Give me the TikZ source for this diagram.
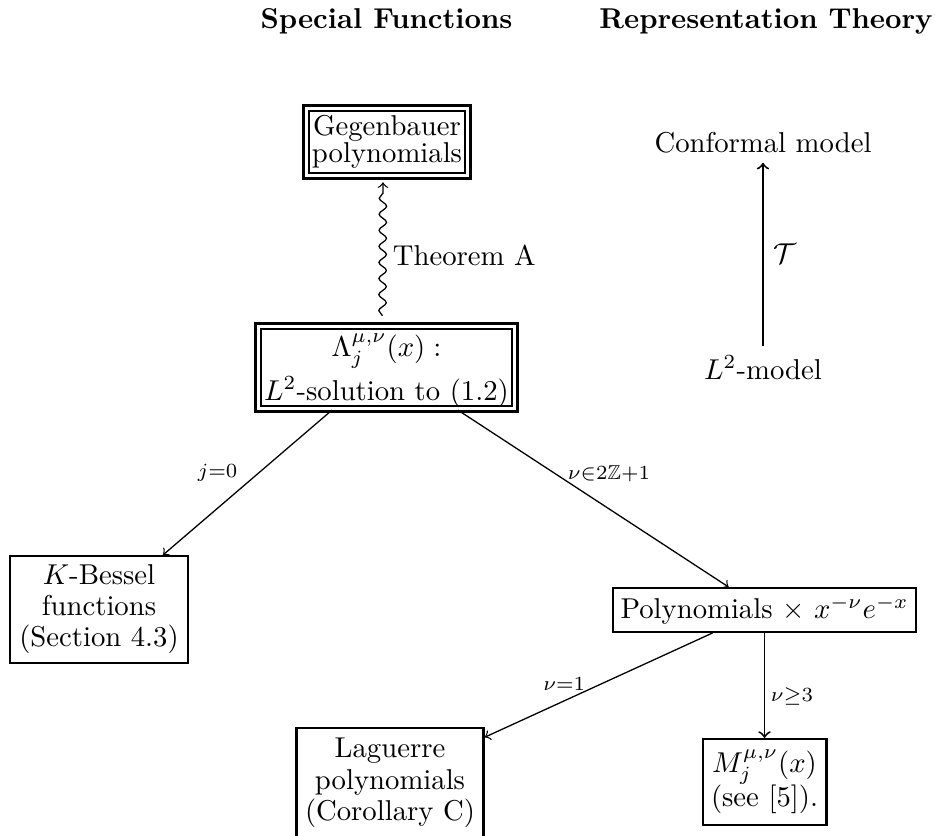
\documentclass[tikz,border=0pt]{standalone}
\usepackage{amssymb}
\usetikzlibrary{decorations.pathmorphing}
\begin{document}
\begin{tikzpicture}[x=0.3484pt,y=-0.3484pt, >=to,
  dbox/.style={draw, double, line width=0.9pt, double distance=1.1pt, inner sep=0pt, align=center},
  sbox/.style={draw, line width=0.8pt, inner sep=0pt, align=center},
  arr/.style={->, line width=0.45pt},
  varr/.style={->, line width=0.65pt},
  lbl/.style={inner sep=0pt},
  head/.style={font=\bfseries, anchor=base, inner sep=0pt}]
\useasboundingbox (0,0) rectangle (935,835);
% headings
\node[head] (h1) at (386.5,28) {Special Functions};
\node[head] (h2) at (766,28) {Representation Theory};
% boxes
\node[dbox, minimum width=56.3pt, minimum height=23.6pt, font=\fontsize{10}{9.4}\selectfont] (gen) at (387,142) {Gegenbauer\\polynomials};
\node[dbox, minimum width=89.4pt, minimum height=28.8pt] (lam) at (386.5,367.5) {\rule{0pt}{10pt}$\Lambda_j^{\mu,\nu}(x):$\\[2pt]$L^2$-solution to (1.2)};
\node[sbox, minimum width=61.9pt, minimum height=37.2pt, font=\fontsize{10}{10.8}\selectfont] (kb) at (99,609.5) {$K$-Bessel\\functions\\(Section 4.3)};
\node[sbox, minimum width=105.8pt, minimum height=15.2pt] (poly) at (764.5,610) {Polynomials $\times$ $x^{-\nu}e^{-x}$};
\node[sbox, minimum width=65.2pt, minimum height=38.5pt, font=\fontsize{10}{11}\selectfont] (lag) at (390,783) {Laguerre\\polynomials\\(Corollary C)};
\node[sbox, minimum width=43.1pt, minimum height=29.9pt, font=\fontsize{10}{12}\selectfont] (mj) at (764.5,782) {$M_j^{\mu,\nu}(x)$\\(see [5]).};
% representation theory side
\node[anchor=base] (conf) at (763,152) {Conformal model};
\node[anchor=base] (l2) at (763,379) {$L^2$-model};
\draw[varr] (l2) -- node[right] {$\mathcal{T}$} (conf);
% connectors
\draw[arr, decorate, decoration={snake, amplitude=1.3pt, segment length=5.6pt, post length=2pt}]
  ([xshift=-1.4pt,yshift=3.2pt]lam.north) -- node[right, pos=0.45] {Theorem A} ([xshift=-1.4pt,yshift=-1.8pt]gen.south);
\draw[arr] ([xshift=-19pt]lam.south) -- node[lbl, pos=0.43, anchor=east, xshift=-7.4pt] {$\scriptstyle j=0$} ([xshift=22.3pt]kb.north);
\draw[arr] ([xshift=24.9pt]lam.south) -- node[lbl, pos=0.358, anchor=west, xshift=4.3pt] {$\scriptstyle \nu\in 2\mathbb{Z}+1$} ([xshift=-12.5pt]poly.north);
\draw[arr] ([xshift=-18.1pt]poly.south) -- node[lbl, pos=0.487, anchor=east, xshift=-5.5pt] {$\scriptstyle \nu=1$} ([yshift=-3.7pt]lag.north east);
\draw[varr] (poly.south) -- node[lbl, pos=0.607, anchor=west, xshift=1.9pt] {$\scriptstyle \nu\geq 3$} (mj.north);
\end{tikzpicture}
\end{document}
